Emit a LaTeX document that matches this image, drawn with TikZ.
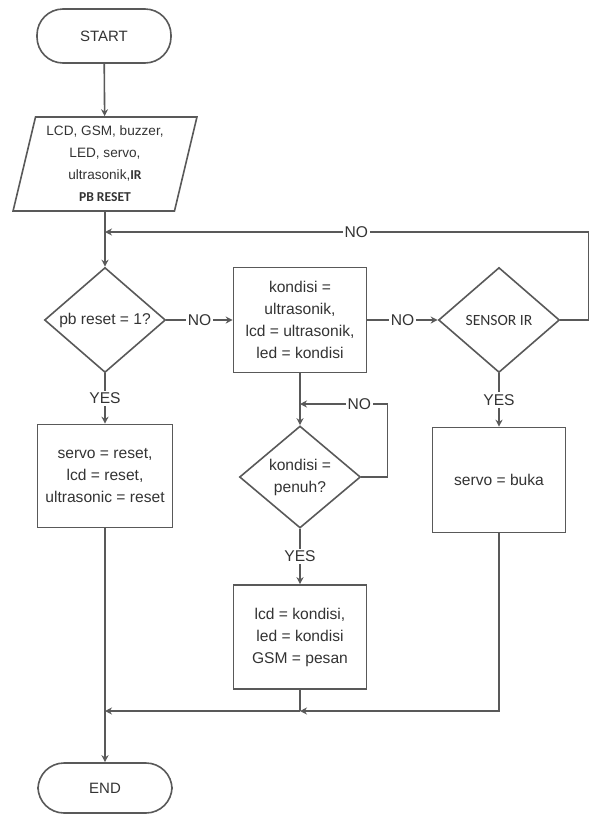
\documentclass[tikz,border=0pt]{standalone}
\usepackage{fontspec}
\setmainfont{Liberation Sans}
\newfontfamily\calibri{Carlito}
\usetikzlibrary{shapes.geometric,arrows.meta}

\begin{document}
\begin{tikzpicture}[x=0.5pt, y=-0.5pt, font=\fontsize{7.8}{11}\selectfont, text=black!80,
	term/.style = {draw=black!65, line width=0.8pt, rounded corners=13pt, minimum width=67pt, minimum height=27pt, font=\fontsize{7.5}{9}\selectfont},
	io/.style = {draw=black!65, line width=0.8pt, trapezium, trapezium left angle=76, trapezium right angle=104, trapezium stretches=true, minimum width=92pt, minimum height=47pt, inner sep=0pt, align=center, font=\fontsize{6.8}{11}\selectfont},
	dec/.style = {draw=black!65, line width=0.8pt, diamond, aspect=1.15, inner sep=0pt, minimum width=60.5pt, minimum height=52.5pt, align=center},
	proc/.style = {draw=black!65, line width=0.8pt, minimum width=66.5pt, minimum height=52pt, align=center},
	lbl/.style = {fill=white, inner sep=1pt},
	line/.style = {draw=black!65, line width=0.8pt},
	flow/.style = {line, -{Stealth[length=3.5pt,width=3.5pt]}}]
	\useasboundingbox (0,0) rectangle (589,814);
	\node[term] (start) at (104,36) {START};
	\node[io] (input) at (105,164) {LCD, GSM, buzzer,\\LED, servo,\\ultrasonik,{\calibri\bfseries IR}\\{\calibri\bfseries PB RESET}};
	\node[dec] (reset) at (105,320) {pb reset = 1?};
	\node[proc, minimum height=52.5pt] (baca) at (300,320) {kondisi =\\ultrasonik,\\lcd = ultrasonik,\\led = kondisi};
	\node[dec] (sensor) at (499,320) {\calibri SENSOR IR};
	\node[proc, minimum width=67.5pt, minimum height=51.5pt] (clear) at (105,476) {servo = reset,\\lcd = reset,\\ultrasonic = reset};
	\node[dec, minimum height=51pt] (penuh) at (300,477) {kondisi =\\penuh?};
	\node[proc, minimum height=52.5pt] (buka) at (499,480) {servo = buka};
	\node[proc] (kirim) at (300,637) {lcd = kondisi,\\led = kondisi\\GSM = pesan};
	\node[term, minimum height=25pt] (end) at (105,788) {END};
	\coordinate (jtop) at (105,232);
	\coordinate (jloop) at (300,404);
	\coordinate (jmid) at (300,711);
	\coordinate (jend) at (105,711);
	\draw[flow] (start) -- (input);
	\draw[flow] (input) -- (reset);
	\draw[flow] (reset) -- node[lbl]{NO} (baca);
	\draw[flow] (baca) -- node[lbl]{NO} (sensor);
	\draw[flow] (sensor.east) -- ++(28,0) |- node[lbl, pos=0.74]{NO} (jtop);
	\draw[flow] (reset) -- node[lbl]{YES} (clear);
	\draw[flow] (sensor) -- node[lbl]{YES} (buka);
	\draw[flow] (baca) -- (penuh);
	\draw[flow] (penuh.east) -- ++(26,0) |- node[lbl, pos=0.66]{NO} (jloop);
	\draw[flow] (penuh) -- node[lbl]{YES} (kirim);
	\draw[flow] (clear) -- (end);
	\draw[line] (kirim) -- (jmid);
	\draw[flow] (buka) |- (jmid);
	\draw[flow] (jmid) -- (jend);
\end{tikzpicture}
\end{document}
